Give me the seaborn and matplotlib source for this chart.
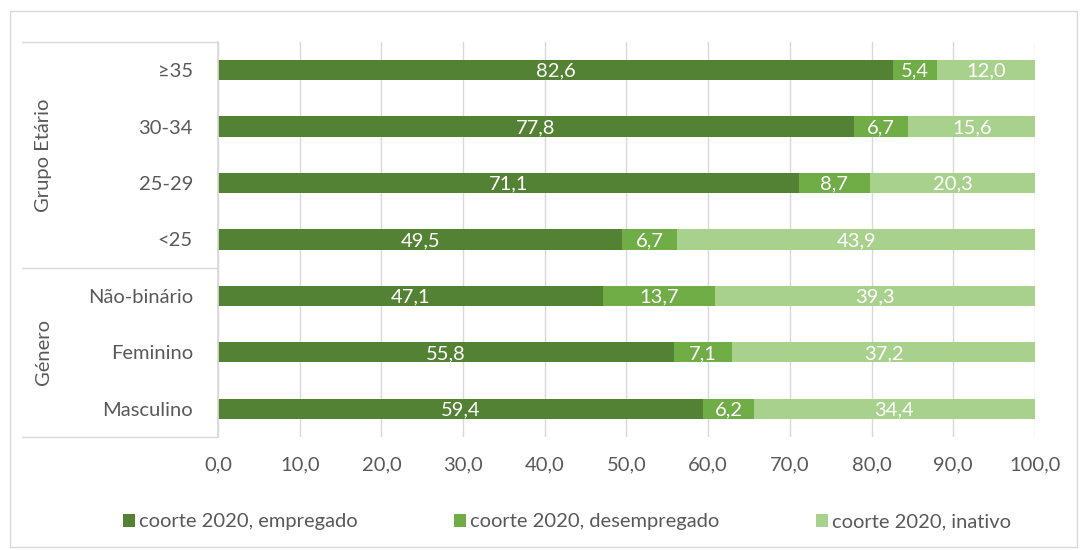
import pandas as pd
import matplotlib.pyplot as plt
import matplotlib.transforms as mtransforms
from matplotlib.patches import Patch, Rectangle
import seaborn as sns

# Data
categories = ["≥35", "30-34", "25-29", "<25", "Não-binário", "Feminino", "Masculino"]
empregado = [82.6, 77.8, 71.1, 49.5, 47.1, 55.8, 59.4]
desempregado = [5.4, 6.7, 8.7, 6.7, 13.7, 7.1, 6.2]
inativo = [12.0, 15.6, 20.3, 43.9, 39.3, 37.2, 34.4]
series_names = ["coorte 2020, empregado", "coorte 2020, desempregado", "coorte 2020, inativo"]
groups = [("Grupo Etário", 0, 3), ("Género", 4, 6)]
xticks = [0, 10, 20, 30, 40, 50, 60, 70, 80, 90, 100]

colors = ["#548235", "#70AD47", "#A9D18E"]
text_grey = "#595959"
fs = 14.5

df = pd.DataFrame({"cat": categories, "emp": empregado,
                   "des": desempregado, "ina": inativo})
df["c1"] = df["emp"]
df["c2"] = df["emp"] + df["des"]
df["c3"] = df["emp"] + df["des"] + df["ina"]

sns.set_theme(style="white")
plt.rcParams["font.family"] = ["Lato", "DejaVu Sans"]

fig = plt.figure(figsize=(10.84, 5.5), dpi=100)
ax = fig.add_axes([0.2011, 0.2055, 0.7537, 0.7182])

# stacked by overlaying cumulative sums
bw = 0.36
for col, c in zip(["c3", "c2", "c1"], colors[::-1]):
    sns.barplot(data=df, x=col, y="cat", color=c, width=bw, ax=ax,
                orient="h", saturation=1, zorder=3, linewidth=0)

# value labels
for i, row in df.iterrows():
    starts = [0, row["c1"], row["c2"]]
    for s, v in zip(starts, [row["emp"], row["des"], row["ina"]]):
        ax.text(s + v / 2, i + 0.02, f"{v:.1f}".replace(".", ","), ha="center",
                va="center", color="white", fontsize=fs, zorder=4)

ax.set_xlim(0, 100)
ax.set_ylim(6.5, -0.5)
ax.set_xticks(xticks)
ax.set_xticklabels([f"{t:.1f}".replace(".", ",") for t in xticks])
ax.set_xlabel("")
ax.set_ylabel("")
ax.tick_params(axis="both", length=0, labelsize=fs, colors=text_grey)
ax.tick_params(axis="y", pad=18)
ax.tick_params(axis="x", pad=14)
ax.grid(axis="x", color="#D9D9D9", linewidth=1, zorder=0)
for side in ["top", "right", "bottom"]:
    ax.spines[side].set_visible(False)
ax.spines["left"].set_color("#D9D9D9")
ax.spines["left"].set_zorder(5)

# group brackets
trans = mtransforms.blended_transform_factory(ax.transAxes, ax.transData)
x0 = -0.24
for y in [-0.5, 3.5, 6.5]:
    ax.plot([x0, 0], [y, y], color="#D9D9D9", lw=1, transform=trans, clip_on=False)
for name, a, b in groups:
    ax.text(-0.213, (a + b) / 2, name, rotation=90, ha="center", va="center",
            color=text_grey, fontsize=fs, transform=trans)

# legend
handles = [Patch(facecolor=c, edgecolor="none") for c in colors]
fig.legend(handles, series_names, loc="center", bbox_to_anchor=(0.523, 0.051),
           ncol=3, frameon=False, fontsize=fs, handlelength=0.6,
           handleheight=0.6, handletextpad=0.2, columnspacing=4.8,
           labelcolor=text_grey)

# chart border
fig.patches.append(Rectangle((0.009, 0.005), 0.985, 0.975, transform=fig.transFigure,
                             fill=False, edgecolor="#D9D9D9", lw=1))

fig.savefig("out.png", dpi=100)
